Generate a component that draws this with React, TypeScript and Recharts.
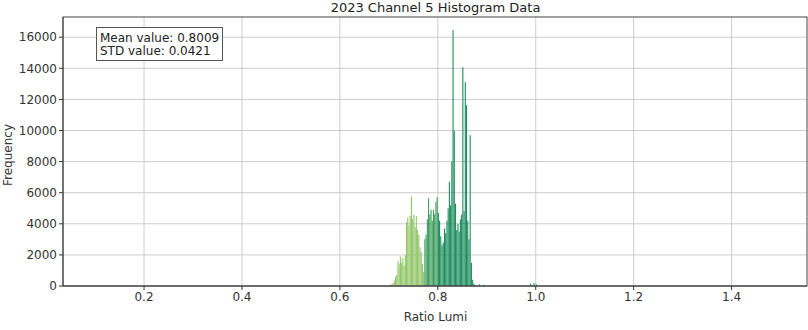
import { ComposedChart, Bar, Cell, XAxis, YAxis, CartesianGrid } from "recharts";

// Histogram of the luminance ratio, channel 5, year 2023
const BIN_START = 0.7;
const BIN_WIDTH = 0.0025;

const counts = [
  60, 80, 120, 200, 350, 600, 700, 1600, 1400, 1900,
  1500, 1800, 1300, 2000, 4100, 4400, 3900, 4500, 5750, 4300,
  4600, 3800, 4500, 3600, 3300, 2500, 2200, 1400, 900, 3000,
  3300, 4300, 5650, 4600, 4900, 4200, 4900, 4600, 5400, 5700,
  4700, 4200, 3200, 2600, 2800, 3700, 3400, 4200, 5000, 6700,
  5200, 8000, 16470, 10000, 5300, 3600, 4000, 3500, 4300, 4600,
  14070, 4800, 13100, 11630, 4200, 3000, 9700, 1500, 400, 150,
  60,
];

// a few stray bins further out
const tailBins = [0.6905, 0.6955, 0.8855, 0.8935, 0.9895, 0.9965, 1.0015];
const tailCounts = [40, 60, 120, 80, 150, 200, 120];

const xTicks = [0.2, 0.4, 0.6, 0.8, 1.0, 1.2, 1.4];
const yTicks = [0, 2000, 4000, 6000, 8000, 10000, 12000, 14000, 16000];

const meanValue = "0.8009";
const stdValue = "0.0421";

const binCenters = counts.map((_, i) => BIN_START + (i + 0.5) * BIN_WIDTH);

const data = [
  ...binCenters.map((x, i) => ({ x, count: counts[i] })),
  ...tailBins.map((x, i) => ({ x, count: tailCounts[i] })),
].sort((a, b) => a.x - b.x);

function binColor(x: number) {
  if (x < 0.7725) return "#92c669";
  if (x < 0.8) return "#3d9d5e";
  return "#1d8c5d";
}

const W = 808;
const H = 330;
const PLOT = { left: 63, top: 17, right: 807, bottom: 286 };
const FONT = "'DejaVu Sans', sans-serif";

export default function App() {
  return (
    <div style={{ position: "absolute", left: 0, top: 0, width: W, height: H, background: "#fff" }}>
      <ComposedChart
        width={W}
        height={H}
        data={data}
        margin={{ top: PLOT.top, right: W - PLOT.right, bottom: 0, left: 0 }}
      >
        <CartesianGrid stroke="#cccccc" strokeWidth={1} horizontalValues={yTicks} verticalValues={xTicks} />
        <XAxis
          dataKey="x"
          type="number"
          domain={[0.0345, 1.554]}
          allowDataOverflow
          ticks={xTicks}
          tickFormatter={(v: number) => v.toFixed(1)}
          height={H - PLOT.bottom}
          tick={{ fontFamily: FONT, fontSize: 12, fill: "#333" }}
          tickSize={4}
          tickLine={{ stroke: "#333" }}
          axisLine={{ stroke: "#444" }}
        />
        <YAxis
          type="number"
          domain={[0, 17300]}
          ticks={yTicks}
          width={PLOT.left}
          tick={{ fontFamily: FONT, fontSize: 12, fill: "#333" }}
          tickSize={4}
          tickLine={{ stroke: "#333" }}
          axisLine={{ stroke: "#444" }}
        />
        <Bar dataKey="count" barSize={1.5} isAnimationActive={false}>
          {data.map((d, i) => (
            <Cell key={i} fill={binColor(d.x)} />
          ))}
        </Bar>
      </ComposedChart>
      <svg width={W} height={H} style={{ position: "absolute", left: 0, top: 0, pointerEvents: "none" }}>
        <rect
          x={PLOT.left}
          y={PLOT.top}
          width={PLOT.right - PLOT.left}
          height={PLOT.bottom - PLOT.top}
          fill="none"
          stroke="#444"
          strokeWidth={1}
        />
        <text x={435.5} y={12} textAnchor="middle" fontFamily={FONT} fontSize={13} fill="#222">
          2023 Channel 5 Histogram Data
        </text>
        <text x={435.5} y={321} textAnchor="middle" fontFamily={FONT} fontSize={12} fill="#333">
          Ratio Lumi
        </text>
        <text
          x={12}
          y={155}
          textAnchor="middle"
          fontFamily={FONT}
          fontSize={12}
          fill="#333"
          transform="rotate(-90 12 155)"
        >
          Frequency
        </text>
        <rect x={96.5} y={27.5} width={126} height={33} fill="#fff" stroke="#555" strokeWidth={1} />
        <text x={100} y={42} fontFamily={FONT} fontSize={12} fill="#222">
          Mean value: {meanValue}
        </text>
        <text x={100} y={55} fontFamily={FONT} fontSize={12} fill="#222">
          STD value: {stdValue}
        </text>
      </svg>
    </div>
  );
}
